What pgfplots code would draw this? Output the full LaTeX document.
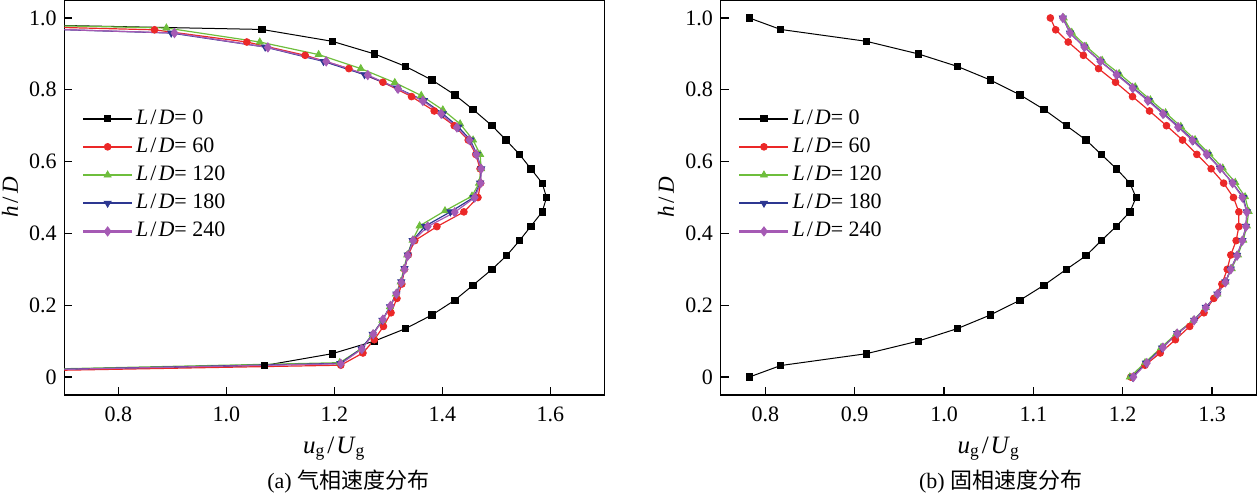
\documentclass[border=0pt]{standalone}
\usepackage{fontspec}
\setmainfont{Liberation Serif}
\newfontfamily\cjk{Noto Sans CJK SC}
\usepackage{pgfplots}
\pgfplotsset{compat=1.18}
\definecolor{cred}{RGB}{235,40,40}
\definecolor{cgreen}{RGB}{110,190,60}
\definecolor{cblue}{RGB}{45,55,145}
\definecolor{cpurple}{RGB}{165,90,180}
\pgfplotsset{
  myaxis/.style={
    scale only axis, height=197.5pt,
    ymin=-0.05, ymax=1.05,
    ytick={0,0.2,0.4,0.6,0.8,1.0},
    yticklabels={0,0.2,0.4,0.6,0.8,1.0},
    tick pos=left, tick align=inside,
    major tick length=4pt,
    axis line style={line width=0.6pt},
    every tick/.style={black, line width=0.6pt},
    tick label style={font=\fontsize{11}{13}\selectfont},
    xticklabel style={anchor=base, yshift=-13pt},
    every axis x label/.style={at={(axis description cs:0.5,0)}, anchor=base, yshift=-29pt, font=\fontsize{12.5}{14}\selectfont},
    xlabel={\textit{u}\textsubscript{g}\kern1pt/\kern1pt\textit{U}\textsubscript{g}},
    ylabel={\textit{h}\kern1.5pt/\kern1.5pt\textit{D}},
    legend cell align=left,
    legend style={draw=none, fill=none, at={(0.021,0.745)}, anchor=north west,
      font=\fontsize{11}{13}\selectfont, row sep=0.6pt,
      nodes={inner sep=1.5pt, text height=8pt, text depth=2.5pt}},
    legend image code/.code={\draw[mark repeat=2,mark phase=2, line width=1.1pt] plot coordinates {(0pt,0pt) (12.25pt,0pt) (24.5pt,0pt)};},
  },
  s0/.style={black, line width=0.5pt, mark=square*, mark size=1.6pt, mark options={solid, line width=0.4pt}},
  s60/.style={cred, line width=0.6pt, mark=*, mark size=1.7pt, mark options={solid, line width=0.4pt}},
  s120/.style={cgreen, line width=0.6pt, mark=triangle*, mark size=2pt, mark options={solid, line width=0.4pt}},
  s180/.style={cblue, line width=0.6pt, mark=triangle*, mark size=2pt, mark options={solid, rotate=180, line width=0.4pt}},
  s240/.style={cpurple, line width=0.6pt, mark=diamond*, mark size=2.3pt, mark options={solid, line width=0.4pt}},
}
\newcommand{\LD}[1]{\textit{L}\kern1pt/\kern1pt\textit{D}= #1}
\begin{document}
\fontsize{11}{13}\selectfont
\begin{tikzpicture}
\useasboundingbox (0,0) rectangle (628.5pt,246.5pt);
% ---------------- (a) gas phase ----------------
\begin{axis}[myaxis, name=a, at={(32.15pt,49pt)}, anchor=south west, width=270pt,
  xmin=0.7, xmax=1.7,
  xtick={0.8,1.0,1.2,1.4,1.6}, xticklabels={0.8,1.0,1.2,1.4,1.6},
  every axis y label/.style={at={(axis description cs:-0.1006,0.5)}, rotate=90, anchor=center, font=\fontsize{11.5}{13}\selectfont}]
\addplot[s0] coordinates {(0,0) (1.070,0.032) (1.196,0.065) (1.274,0.100) (1.332,0.135) (1.381,0.173) (1.423,0.214) (1.457,0.256) (1.492,0.300) (1.519,0.338) (1.543,0.380) (1.564,0.420) (1.585,0.460) (1.593,0.500) (1.585,0.540) (1.564,0.580) (1.543,0.620) (1.518,0.660) (1.492,0.700) (1.457,0.745) (1.423,0.786) (1.381,0.827) (1.332,0.865) (1.274,0.900) (1.196,0.935) (1.066,0.968) (0,1)};
\addplot[s60] coordinates {(0,0) (1.212,0.033) (1.253,0.067) (1.274,0.104) (1.291,0.141) (1.305,0.179) (1.316,0.219) (1.325,0.259) (1.330,0.300) (1.337,0.340) (1.349,0.380) (1.390,0.419) (1.440,0.460) (1.466,0.500) (1.471,0.540) (1.470,0.580) (1.462,0.620) (1.448,0.660) (1.422,0.700) (1.385,0.741) (1.343,0.781) (1.290,0.821) (1.227,0.859) (1.146,0.896) (1.038,0.933) (0.867,0.967) (0,1)};
\addplot[s120] coordinates {(0,0) (1.210,0.040) (1.250,0.079) (1.271,0.119) (1.289,0.158) (1.303,0.196) (1.314,0.231) (1.323,0.265) (1.329,0.302) (1.335,0.340) (1.345,0.381) (1.358,0.421) (1.405,0.463) (1.455,0.504) (1.468,0.540) (1.472,0.580) (1.470,0.620) (1.457,0.660) (1.433,0.705) (1.401,0.744) (1.361,0.784) (1.312,0.820) (1.249,0.859) (1.171,0.898) (1.062,0.933) (0.889,0.972) (0,1)};
\addplot[s180] coordinates {(0,0) (1.211,0.038) (1.250,0.079) (1.271,0.119) (1.289,0.158) (1.303,0.196) (1.315,0.231) (1.324,0.265) (1.330,0.302) (1.336,0.340) (1.345,0.380) (1.368,0.420) (1.415,0.460) (1.458,0.500) (1.470,0.540) (1.472,0.580) (1.464,0.620) (1.452,0.660) (1.430,0.696) (1.401,0.733) (1.366,0.770) (1.316,0.805) (1.256,0.842) (1.180,0.879) (1.072,0.919) (0.898,0.958) (0,1)};
\addplot[s240] coordinates {(0,0) (1.212,0.037) (1.251,0.078) (1.272,0.119) (1.290,0.160) (1.304,0.198) (1.315,0.232) (1.324,0.263) (1.330,0.300) (1.336,0.338) (1.346,0.380) (1.373,0.419) (1.423,0.459) (1.460,0.500) (1.471,0.540) (1.472,0.580) (1.463,0.620) (1.450,0.660) (1.427,0.695) (1.398,0.733) (1.364,0.769) (1.318,0.803) (1.262,0.841) (1.185,0.879) (1.077,0.918) (0.904,0.958) (0,1)};
\legend{\LD{0},\LD{60},\LD{120},\LD{180},\LD{240}}
\end{axis}
\node[anchor=base, font=\fontsize{11}{13}\selectfont] at ([xshift=7pt,yshift=-46.5pt]a.south) {(a) {\cjk 气相速度分布}};
% ---------------- (b) solid phase ----------------
\begin{axis}[myaxis, name=b, at={(360.35pt,49pt)}, anchor=south west, width=268pt,
  xmin=0.75, xmax=1.35,
  xtick={0.8,0.9,1.0,1.1,1.2,1.3}, xticklabels={0.8,0.9,1.0,1.1,1.2,1.3},
  every axis y label/.style={at={(axis description cs:-0.102,0.5)}, rotate=90, anchor=center, font=\fontsize{11.5}{13}\selectfont}]
\addplot[s0] coordinates {(0.782,0) (0.817,0.032) (0.913,0.065) (0.971,0.100) (1.015,0.135) (1.052,0.173) (1.085,0.214) (1.112,0.256) (1.137,0.300) (1.159,0.338) (1.176,0.380) (1.193,0.420) (1.208,0.460) (1.215,0.500) (1.208,0.540) (1.193,0.580) (1.176,0.620) (1.159,0.660) (1.137,0.700) (1.112,0.745) (1.085,0.786) (1.052,0.827) (1.015,0.865) (0.971,0.900) (0.913,0.935) (0.817,0.968) (0.782,1.0)};
\addplot[s60] coordinates {(1.209,0) (1.225,0.033) (1.242,0.067) (1.259,0.104) (1.275,0.141) (1.291,0.179) (1.302,0.219) (1.311,0.259) (1.317,0.300) (1.321,0.340) (1.327,0.380) (1.330,0.419) (1.330,0.460) (1.324,0.500) (1.313,0.540) (1.299,0.580) (1.283,0.620) (1.267,0.660) (1.249,0.700) (1.230,0.741) (1.211,0.781) (1.192,0.821) (1.173,0.859) (1.156,0.896) (1.139,0.933) (1.125,0.967) (1.119,1.0)};
\addplot[s120] coordinates {(1.208,0) (1.225,0.040) (1.243,0.082) (1.260,0.121) (1.279,0.158) (1.293,0.194) (1.306,0.231) (1.315,0.265) (1.322,0.302) (1.329,0.340) (1.335,0.381) (1.339,0.421) (1.341,0.461) (1.337,0.502) (1.326,0.542) (1.312,0.582) (1.297,0.622) (1.281,0.661) (1.265,0.698) (1.248,0.736) (1.231,0.772) (1.214,0.808) (1.196,0.845) (1.177,0.882) (1.159,0.921) (1.143,0.960) (1.134,1.0)};
\addplot[s180] coordinates {(1.211,0) (1.226,0.039) (1.244,0.081) (1.261,0.121) (1.280,0.158) (1.293,0.194) (1.306,0.231) (1.315,0.265) (1.321,0.301) (1.328,0.339) (1.334,0.380) (1.338,0.420) (1.339,0.460) (1.335,0.500) (1.323,0.540) (1.309,0.581) (1.295,0.620) (1.279,0.659) (1.263,0.696) (1.246,0.733) (1.229,0.770) (1.212,0.805) (1.194,0.842) (1.175,0.879) (1.157,0.919) (1.141,0.958) (1.133,1.0)};
\addplot[s240] coordinates {(1.212,0) (1.227,0.039) (1.245,0.082) (1.261,0.121) (1.280,0.158) (1.293,0.193) (1.306,0.231) (1.315,0.264) (1.321,0.300) (1.328,0.338) (1.334,0.380) (1.338,0.419) (1.339,0.459) (1.334,0.500) (1.323,0.540) (1.309,0.581) (1.294,0.620) (1.278,0.659) (1.262,0.696) (1.245,0.733) (1.228,0.770) (1.211,0.805) (1.193,0.842) (1.175,0.879) (1.157,0.919) (1.141,0.958) (1.133,1.0)};
\legend{\LD{0},\LD{60},\LD{120},\LD{180},\LD{240}}
\end{axis}
\node[anchor=base, font=\fontsize{11}{13}\selectfont] at ([xshift=6pt,yshift=-46.5pt]b.south) {(b) {\cjk 固相速度分布}};
\end{tikzpicture}
\end{document}
